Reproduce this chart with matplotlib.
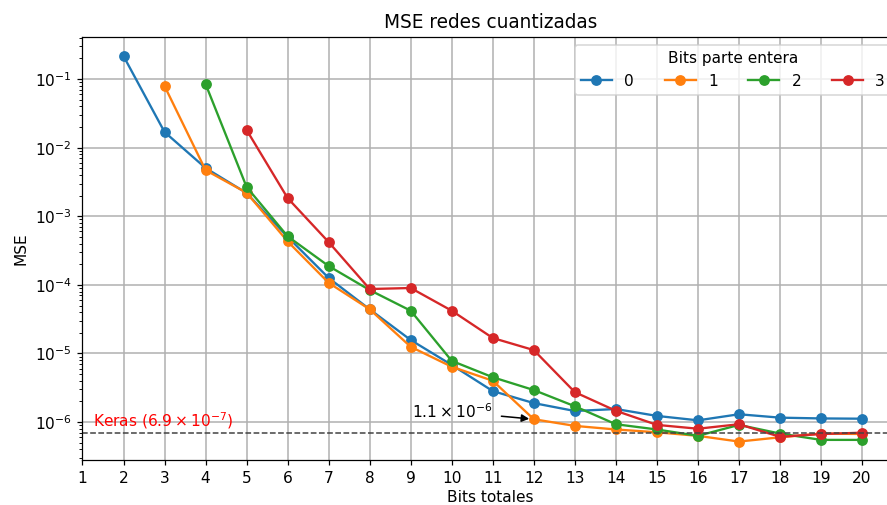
import numpy as np
import matplotlib
matplotlib.use('Agg')
import matplotlib.pyplot as plt

# MSE por número de bits totales, una serie por bits de parte entera
bits_0 = list(range(2, 21))
mse_0 = [0.216, 0.0169, 5.05e-3, 2.18e-3, 5.0e-4, 1.26e-4, 4.4e-5, 1.57e-5, 6.8e-6,
         2.83e-6, 1.89e-6, 1.45e-6, 1.55e-6, 1.23e-6, 1.06e-6, 1.3e-6, 1.16e-6, 1.13e-6, 1.12e-6]

bits_1 = list(range(3, 21))
mse_1 = [0.079, 4.7e-3, 2.2e-3, 4.3e-4, 1.07e-4, 4.4e-5, 1.25e-5, 6.4e-6, 4.0e-6,
         1.1e-6, 8.8e-7, 7.8e-7, 7.1e-7, 6.3e-7, 5.2e-7, 6.0e-7, 6.8e-7, 6.7e-7]

bits_2 = list(range(4, 21))
mse_2 = [0.0846, 2.67e-3, 5.1e-4, 1.88e-4, 8.4e-5, 4.2e-5, 7.8e-6, 4.5e-6, 2.93e-6,
         1.7e-6, 9.3e-7, 7.8e-7, 6.3e-7, 9.1e-7, 6.8e-7, 5.5e-7, 5.5e-7]

bits_3 = list(range(5, 21))
mse_3 = [0.0181, 1.84e-3, 4.2e-4, 8.7e-5, 9.0e-5, 4.2e-5, 1.68e-5, 1.12e-5, 2.73e-6,
         1.46e-6, 9.1e-7, 8.0e-7, 9.3e-7, 6.1e-7, 6.7e-7, 7.0e-7]

series = [(bits_0, mse_0, '0'), (bits_1, mse_1, '1'), (bits_2, mse_2, '2'), (bits_3, mse_3, '3')]

mse_keras = 6.9e-7

dpi = 111
fig = plt.figure(figsize=(887 / dpi, 505 / dpi), dpi=dpi)
ax = fig.add_axes([0.093, 0.0891, 0.9205, 0.8376])

for x, y, lab in series:
    ax.plot(x, y, marker='o', label=lab)

ax.axhline(mse_keras, color='#444444', linestyle='--', linewidth=1)
ax.text(1.26, mse_keras * 1.07, r'Keras ($6.9\times10^{-7}$)', color='red', fontsize=10,
        va='bottom', ha='left')

# anotación del mínimo de la serie 1
ax.annotate(r'$1.1\times10^{-6}$', xy=(12, mse_1[12 - 3]), xytext=(9.03, 1.42e-6),
            fontsize=10, ha='left', va='center',
            arrowprops=dict(arrowstyle='-|>', color='black', lw=1, shrinkA=4, shrinkB=3))

ax.set_yscale('log')
ax.set_xlim(1, 20.9)
ax.set_ylim(2.8e-7, 0.41)
ax.set_xticks(range(1, 21))
ax.grid(True, which='major', color='#b0b0b0', linewidth=1)
ax.set_axisbelow(True)

ax.set_title('MSE redes cuantizadas', fontsize=12)
ax.set_xlabel('Bits totales', fontsize=10, labelpad=2.5)
ax.set_ylabel('MSE', fontsize=10)

ax.legend(title='Bits parte entera', ncol=4, loc='upper right', fontsize=10,
          title_fontsize=10, handlelength=2.0, columnspacing=2.0)

fig.savefig('out.png', dpi=dpi)
